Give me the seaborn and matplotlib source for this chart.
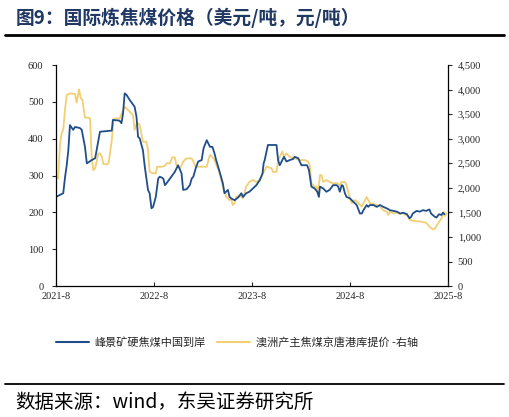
import pandas as pd
import numpy as np
import matplotlib
matplotlib.use('Agg')
import matplotlib.pyplot as plt
import matplotlib.dates as mdates
from matplotlib.ticker import FuncFormatter
from matplotlib.lines import Line2D
import seaborn as sns

# ============================================================
# Data
# ============================================================
blue_name = '峰景矿硬焦煤中国到岸'
yellow_name = '澳洲产主焦煤京唐港库提价 -右轴'

blue_dates = [
    '2021-08-01', '2021-08-28', '2021-09-04', '2021-09-10', '2021-09-16', '2021-09-22',
    '2021-10-04', '2021-10-11', '2021-10-29', '2021-11-05', '2021-11-17', '2021-11-24',
    '2021-12-12', '2021-12-25', '2022-01-12', '2022-02-25', '2022-03-01', '2022-03-26',
    '2022-04-02', '2022-04-08', '2022-04-14', '2022-04-21', '2022-05-03', '2022-05-21',
    '2022-05-28', '2022-06-03', '2022-06-09', '2022-06-21', '2022-06-28', '2022-07-10',
    '2022-07-16', '2022-07-23', '2022-07-29', '2022-08-08', '2022-08-17', '2022-08-23',
    '2022-09-05', '2022-09-11', '2022-09-17', '2022-09-30', '2022-10-18', '2022-10-30',
    '2022-11-12', '2022-11-18', '2022-12-01', '2022-12-13', '2022-12-20', '2022-12-26',
    '2023-01-04', '2023-01-13', '2023-01-26', '2023-02-02', '2023-02-14', '2023-02-26',
    '2023-03-07', '2023-03-15', '2023-03-21', '2023-04-03', '2023-04-15', '2023-04-21',
    '2023-05-04', '2023-05-10', '2023-05-16', '2023-05-29', '2023-06-13', '2023-06-23',
    '2023-06-29', '2023-07-11', '2023-07-23', '2023-08-05', '2023-08-18', '2023-08-31',
    '2023-09-10', '2023-09-14', '2023-09-18', '2023-09-30', '2023-11-01', '2023-11-07',
    '2023-11-13', '2023-11-23', '2023-11-29', '2023-12-08', '2023-12-20', '2024-01-02',
    '2024-01-08', '2024-01-21', '2024-02-02', '2024-02-23', '2024-03-01', '2024-03-10',
    '2024-03-22', '2024-04-01', '2024-04-07', '2024-04-11', '2024-04-23', '2024-05-05',
    '2024-05-17', '2024-05-30', '2024-06-12', '2024-06-18', '2024-06-24', '2024-07-01',
    '2024-07-06', '2024-07-13', '2024-07-19', '2024-08-01', '2024-08-13', '2024-08-26',
    '2024-09-07', '2024-09-14', '2024-09-20', '2024-10-02', '2024-10-08', '2024-10-14',
    '2024-10-27', '2024-11-09', '2024-11-21', '2024-12-03', '2024-12-16', '2024-12-28',
    '2025-01-10', '2025-01-23', '2025-02-04', '2025-02-16', '2025-03-01', '2025-03-11',
    '2025-03-17', '2025-03-23', '2025-04-06', '2025-04-18', '2025-04-30', '2025-05-12',
    '2025-05-24', '2025-05-30', '2025-06-13', '2025-06-19', '2025-06-29', '2025-07-08',
    '2025-07-13', '2025-07-19',
]
blue_vals = [
    242, 252, 297, 328, 369, 437,
    424, 432, 429, 424, 378, 333,
    342, 347, 419, 422, 451, 449,
    442, 469, 523, 519, 505, 487,
    460, 405, 401, 369, 324, 261,
    252, 211, 215, 242, 292, 297,
    292, 274, 279, 292, 310, 328,
    306, 261, 263, 274, 292, 297,
    320, 338, 342, 374, 396, 378,
    378, 360, 342, 310, 279, 252,
    261, 242, 238, 233, 242, 252,
    242, 252, 256, 265, 274, 288,
    306, 333, 342, 383, 383, 342,
    328, 342, 351, 338, 342, 345,
    351, 347, 328, 328, 315, 270,
    265, 256, 242, 270, 265, 256,
    261, 274, 274, 270, 256, 274,
    272, 252, 242, 238, 229, 220,
    197, 197, 206, 220, 215, 220,
    220, 215, 220, 215, 211, 206,
    204, 202, 197, 199, 195, 184,
    188, 197, 204, 202, 206, 204,
    208, 197, 188, 186, 195, 193,
    199, 195,
]

yellow_dates = [
    '2021-08-01', '2021-08-09', '2021-08-16', '2021-08-22', '2021-08-28', '2021-09-04',
    '2021-09-10', '2021-09-22', '2021-10-11', '2021-10-17', '2021-10-26', '2021-11-01',
    '2021-11-07', '2021-11-17', '2021-11-30', '2021-12-06', '2021-12-12', '2021-12-18',
    '2021-12-25', '2022-01-06', '2022-01-12', '2022-01-19', '2022-01-25', '2022-02-07',
    '2022-02-13', '2022-02-25', '2022-03-04', '2022-03-14', '2022-03-26', '2022-04-08',
    '2022-04-14', '2022-04-21', '2022-05-03', '2022-05-15', '2022-05-21', '2022-05-28',
    '2022-06-03', '2022-06-09', '2022-06-21', '2022-07-04', '2022-07-10', '2022-07-16',
    '2022-07-29', '2022-08-08', '2022-08-13', '2022-08-30', '2022-09-11', '2022-09-17',
    '2022-09-30', '2022-10-08', '2022-10-18', '2022-10-24', '2022-11-06', '2022-11-12',
    '2022-11-18', '2022-12-01', '2022-12-20', '2022-12-26', '2023-01-04', '2023-02-14',
    '2023-02-20', '2023-02-26', '2023-03-07', '2023-03-15', '2023-03-21', '2023-04-03',
    '2023-04-15', '2023-04-28', '2023-05-10', '2023-05-16', '2023-05-22', '2023-05-29',
    '2023-06-04', '2023-06-17', '2023-06-29', '2023-07-11', '2023-07-23', '2023-08-05',
    '2023-08-18', '2023-08-31', '2023-09-12', '2023-09-25', '2023-10-13', '2023-10-19',
    '2023-11-01', '2023-11-07', '2023-11-13', '2023-11-23', '2023-11-29', '2023-12-08',
    '2023-12-20', '2024-01-08', '2024-01-27', '2024-02-14', '2024-02-27', '2024-03-04',
    '2024-03-10', '2024-03-22', '2024-03-29', '2024-04-04', '2024-04-11', '2024-04-17',
    '2024-04-23', '2024-05-05', '2024-05-17', '2024-05-30', '2024-06-12', '2024-06-24',
    '2024-07-01', '2024-07-13', '2024-07-19', '2024-07-25', '2024-08-01', '2024-08-07',
    '2024-08-19', '2024-09-01', '2024-09-14', '2024-09-26', '2024-10-02', '2024-10-08',
    '2024-10-14', '2024-11-09', '2024-11-21', '2024-12-03', '2024-12-16', '2024-12-22',
    '2024-12-28', '2025-01-10', '2025-01-23', '2025-02-04', '2025-02-16', '2025-02-22',
    '2025-03-01', '2025-03-11', '2025-03-23', '2025-04-18', '2025-05-12', '2025-05-24',
    '2025-06-06', '2025-06-13', '2025-06-25', '2025-07-08', '2025-07-16', '2025-07-21',
    '2025-07-26',
]
yellow_vals = [
    2230, 2190, 2900, 3110, 3180, 3615,
    3890, 3920, 3910, 3735, 4005, 3825,
    3800, 3430, 3430, 3410, 2630, 2360,
    2400, 2700, 2700, 2630, 2480, 2480,
    2500, 2970, 3400, 3410, 3410, 3585,
    3650, 3615, 3550, 3480, 3180, 3300,
    3315, 3280, 2940, 2940, 2770, 2325,
    2295, 2295, 2430, 2430, 2445, 2500,
    2500, 2620, 2620, 2460, 2400, 2460,
    2535, 2600, 2600, 2535, 2430, 2430,
    2565, 2670, 2630, 2565, 2480, 2300,
    2025, 1815, 1750, 1770, 1650, 1690,
    1815, 1850, 1785, 2025, 2120, 2160,
    2120, 2160, 2295, 2430, 2400, 2325,
    2325, 2565, 2630, 2740, 2630, 2700,
    2630, 2600, 2565, 2565, 2535, 2460,
    2090, 2025, 2025, 1890, 2260, 2260,
    2120, 2160, 2120, 2090, 2100, 2055,
    2120, 2120, 2055, 1920, 1785, 1690,
    1750, 1690, 1615, 1750, 1815, 1750,
    1690, 1650, 1615, 1545, 1515, 1450,
    1515, 1480, 1495, 1465, 1495, 1450,
    1470, 1355, 1330, 1315, 1290, 1210,
    1155, 1170, 1275, 1380, 1515, 1425,
    1480,
]

blue_df = pd.DataFrame({'date': pd.to_datetime(blue_dates), 'price': blue_vals})
yellow_df = pd.DataFrame({'date': pd.to_datetime(yellow_dates), 'price': yellow_vals})

BLUE = '#1F4E8A'
YELLOW = '#F3CF74'
NAVY = '#1F3864'
CJK = ['Noto Sans CJK SC', 'DejaVu Sans']

# ============================================================
# Style
# ============================================================
sns.set_style('ticks')
plt.rcParams['font.family'] = ['serif']
plt.rcParams['font.serif'] = ['Liberation Serif', 'DejaVu Serif']
plt.rcParams['axes.linewidth'] = 0.9

fig = plt.figure(figsize=(5.09, 4.17), dpi=100)
ax = fig.add_axes([0.110, 0.314, 0.770, 0.530])
ax2 = ax.twinx()

sns.lineplot(data=blue_df, x='date', y='price', ax=ax, color=BLUE, linewidth=1.3)
sns.lineplot(data=yellow_df, x='date', y='price', ax=ax2, color=YELLOW, linewidth=1.3)
ax.set_zorder(ax2.get_zorder() + 1)
ax.patch.set_visible(False)

ax.set_xlim(pd.Timestamp('2021-08-01'), pd.Timestamp('2025-08-01'))
ax.set_ylim(0, 600)
ax2.set_ylim(0, 4500)
ax.set_yticks(np.arange(0, 601, 100))
ax2.set_yticks(np.arange(0, 4501, 500))
ax2.yaxis.set_major_formatter(FuncFormatter(lambda v, p: f'{int(v):,}'))

ax.xaxis.set_major_locator(mdates.MonthLocator(bymonth=8))
ax.xaxis.set_major_formatter(FuncFormatter(
    lambda v, p: f'{mdates.num2date(v).year}-{mdates.num2date(v).month}'))

for a in (ax, ax2):
    a.set_xlabel('')
    a.set_ylabel('')
    a.spines['top'].set_visible(False)
    for s in ('left', 'right', 'bottom'):
        a.spines[s].set_color('black')
ax.spines['right'].set_visible(False)
ax2.spines['left'].set_visible(False)
ax2.spines['bottom'].set_visible(False)

ax.tick_params(axis='y', labelsize=7.5, length=3, width=0.8, direction='out', pad=6)
ax2.tick_params(axis='y', labelsize=7.5, length=3, width=0.8, direction='out', pad=4)
ax.tick_params(axis='x', labelsize=7.5, length=3, width=0.8, direction='in', pad=4)

# Legend below the axes
handles = [Line2D([0], [0], color=BLUE, lw=1.5), Line2D([0], [0], color=YELLOW, lw=1.5)]
fig.legend(handles, [blue_name, yellow_name], loc='center', bbox_to_anchor=(0.465, 0.178),
           ncol=2, frameon=False, handlelength=3.0, columnspacing=1.0, handletextpad=0.5,
           prop={'family': CJK, 'size': 8})

# Title and source
fig.text(0.030, 0.958, '图9：国际炼焦煤价格（美元/吨，元/吨）', ha='left', va='center',
         fontsize=13.5, fontweight='bold', color=NAVY, family=CJK)
fig.add_artist(Line2D([0.010, 0.990], [0.916, 0.916], color='black', lw=2.0,
                      transform=fig.transFigure))
fig.add_artist(Line2D([0.010, 0.990], [0.079, 0.079], color='black', lw=1.3,
                      transform=fig.transFigure))
fig.text(0.030, 0.036, '数据来源：wind，东吴证券研究所', ha='left', va='center',
         fontsize=14, color='black', family=CJK)

plt.savefig('out.png', dpi=100)
plt.close()
